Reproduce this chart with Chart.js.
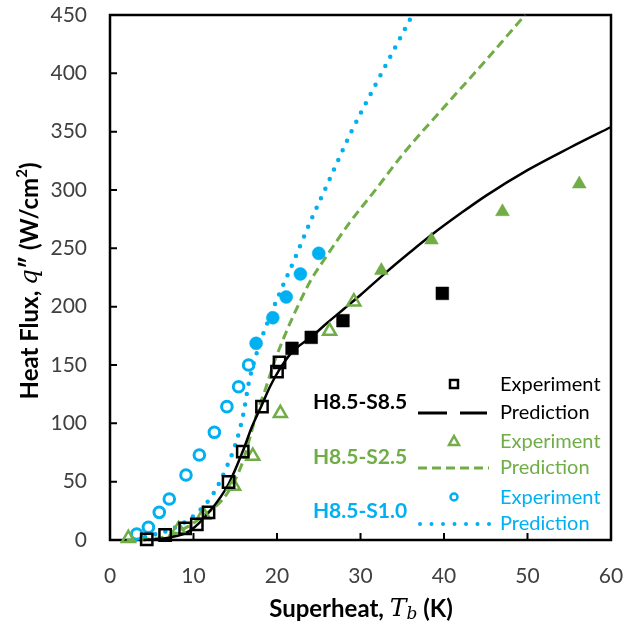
<!DOCTYPE html>
<html>
<head>
<meta charset="utf-8">
<script src="https://cdn.jsdelivr.net/npm/chart.js@4"></script>
<style>
  body { margin: 0; background: #fff; }
  canvas { display: block; }
</style>
</head>
<body>
<canvas id="c" width="634" height="625"></canvas>
<script>
// H8.5-S8.5 experiment (open = low flux, filled = high flux)
const s85OpenT = [4.4, 6.6, 9.0, 10.4, 11.8, 14.2, 15.9, 18.2, 20.0, 20.3];
const s85OpenQ = [0.6, 4.3, 10, 13.4, 23.7, 49.7, 75.7, 114.3, 144.3, 152.3];
const s85FillT = [21.8, 24.1, 27.9, 39.8];
const s85FillQ = [164.3, 173.7, 188, 211.4];
// H8.5-S2.5 experiment
const s25OpenT = [2.2, 8.2, 11.2, 14.8, 17.1, 20.4, 26.3, 29.2];
const s25OpenQ = [1.4, 9.1, 21.4, 46.3, 72, 108.6, 179.1, 204.3];
const s25FillT = [32.5, 38.5, 47.0, 56.2];
const s25FillQ = [230.9, 257.1, 281.4, 305.1];
// H8.5-S1.0 experiment
const s10OpenT = [3.2, 4.6, 5.9, 7.1, 9.1, 10.7, 12.5, 14.0, 15.4, 16.6];
const s10OpenQ = [5.1, 10.9, 23.7, 35.1, 55.7, 72.9, 92.3, 114.3, 131.4, 150];
const s10FillT = [17.5, 19.5, 21.1, 22.8, 25.0];
const s10FillQ = [168.6, 190.5, 208.3, 228, 245.7];

// predictions
const s85PredT = [4, 7, 9.6, 12, 14.2, 15.9, 17, 18.2, 19.2, 20.2, 21.8, 24.1, 26, 28, 30, 33, 36, 38.6, 42, 45, 50, 55, 60];
const s85PredQ = [0, 2, 8, 25, 48, 76, 97, 116, 132, 145, 161, 174, 186, 198, 210, 229, 247, 262, 280, 295, 317, 336, 354];
const s25PredT = [2, 6.8, 9.2, 11.6, 13.4, 14.8, 16, 16.8, 17.6, 18.6, 19.6, 21.2, 22.4, 24, 26, 28.7, 32, 35, 40, 45, 49.7];
const s25PredQ = [0, 3, 11, 23, 34, 49, 69, 89, 109, 129, 151, 180, 199, 222, 244, 272, 302, 330, 371, 411, 450];
const s10PredT = [3, 4.4, 7.6, 10.4, 12.4, 14, 15.2, 16, 16.6, 17.6, 19.4, 20.4, 22, 24, 26.1, 28.7, 32, 36.2];
const s10PredQ = [0, 3, 10, 23, 40, 63, 86, 109, 134, 161, 196, 213, 239, 273, 306, 347, 393, 450];

const groups = ['H8.5-S8.5', 'H8.5-S2.5', 'H8.5-S1.0'];
const xTicks = [0, 10, 20, 30, 40, 50, 60];

const BLACK = '#000000';
const GREEN = '#70AD47';
const BLUE = '#00B0F0';

const zip = (xs, ys) => xs.map((x, i) => ({ x: x, y: ys[i] }));

function marks(T, Q, style, color, filled, r, bw) {
  return {
    type: 'scatter', data: zip(T, Q), order: 1,
    pointStyle: style, pointRadius: r, pointHoverRadius: r,
    backgroundColor: filled ? color : 'rgba(255,255,255,0)',
    borderColor: color, borderWidth: filled ? 0.5 : bw
  };
}
function pred(T, Q, color, dash, width, cap) {
  return {
    type: 'line', data: zip(T, Q), order: 2,
    borderColor: color, borderWidth: width, borderDash: dash, borderCapStyle: cap,
    pointRadius: 0, fill: false, cubicInterpolationMode: 'monotone'
  };
}

function richText(ctx, parts, cx, cy) {
  let w = 0;
  parts.forEach(p => { ctx.font = p.font; p.w = ctx.measureText(p.text).width; w += p.w; });
  let x = cx - w / 2;
  parts.forEach(p => {
    ctx.font = p.font;
    ctx.fillText(p.text, x, cy + (p.dy || 0));
    x += p.w;
  });
}

const frame = {
  id: 'frame',
  beforeDatasetsDraw(chart) {
    const { ctx, chartArea: a, scales: { x, y } } = chart;
    ctx.save();
    ctx.strokeStyle = '#000';
    ctx.lineWidth = 2;
    ctx.beginPath();
    y.ticks.forEach(t => {
      const py = y.getPixelForValue(t.value);
      ctx.moveTo(a.left, py); ctx.lineTo(a.left + 7, py);
    });
    x.ticks.forEach(t => {
      const px = x.getPixelForValue(t.value);
      ctx.moveTo(px, a.bottom); ctx.lineTo(px, a.bottom - 7);
    });
    ctx.stroke();
    ctx.lineWidth = 2.5;
    ctx.strokeRect(a.left, a.top, a.right - a.left, a.bottom - a.top);
    ctx.restore();
  },
  afterDraw(chart) {
    const ctx = chart.ctx;
    ctx.save();
    ctx.textBaseline = 'middle';
    ctx.textAlign = 'left';
    ctx.fillStyle = '#000';
    const B = 'bold 24px Lato';
    // x title
    richText(ctx, [
      { text: 'Superheat, ', font: B },
      { text: 'T', font: 'italic 25px "DejaVu Serif"' },
      { text: 'b', font: 'italic 17px "DejaVu Serif"', dy: 6 },
      { text: ' (K)', font: B }
    ], 361, 609);
    // y title
    ctx.save();
    ctx.translate(30, 281);
    ctx.rotate(-Math.PI / 2);
    richText(ctx, [
      { text: 'Heat Flux, ', font: B },
      { text: 'q', font: 'italic 25px "DejaVu Serif"' },
      { text: '\u2033 ', font: B },
      { text: '(W/cm', font: B },
      { text: '2', font: 'bold 15px Lato', dy: -8 },
      { text: ')', font: B }
    ], 0, 0);
    ctx.restore();

    // custom legend
    const colors = [BLACK, GREEN, BLUE];
    const rowY = [[384, 413], [441, 468], [497, 524]];
    const labelY = [402, 457, 511];
    for (let i = 0; i < 3; i++) {
      const c = colors[i];
      ctx.fillStyle = c;
      ctx.strokeStyle = c;
      ctx.textAlign = 'center';
      ctx.font = 'bold 21px Lato';
      ctx.fillText(groups[i], 360, labelY[i]);
      ctx.textAlign = 'left';
      ctx.font = '20px Lato';
      ctx.fillText('Experiment', 500, rowY[i][0] + 1);
      ctx.fillText('Prediction', 500, rowY[i][1]);
      // marker
      const mx = 454, my = rowY[i][0];
      ctx.lineWidth = 2.5;
      ctx.beginPath();
      if (i === 0) {
        ctx.rect(mx - 4, my - 4, 8, 8);
      } else if (i === 1) {
        ctx.moveTo(mx, my - 5); ctx.lineTo(mx + 5, my + 4); ctx.lineTo(mx - 5, my + 4); ctx.closePath();
      } else {
        ctx.arc(mx, my, 3.5, 0, Math.PI * 2);
      }
      ctx.stroke();
      // line sample
      const ly = rowY[i][1];
      ctx.beginPath();
      if (i === 0) {
        ctx.lineWidth = 3;
        ctx.moveTo(418, ly); ctx.lineTo(447, ly);
        ctx.moveTo(460, ly); ctx.lineTo(487, ly);
      } else if (i === 1) {
        ctx.lineWidth = 3;
        ctx.setLineDash([9, 5]);
        ctx.moveTo(418, ly); ctx.lineTo(489, ly);
      } else {
        ctx.lineWidth = 4;
        ctx.lineCap = 'round';
        ctx.setLineDash([0, 11.5]);
        ctx.moveTo(420, ly); ctx.lineTo(490, ly);
      }
      ctx.stroke();
      ctx.setLineDash([]);
      ctx.lineCap = 'butt';
    }
    ctx.restore();
  }
};

new Chart(document.getElementById('c'), {
  type: 'scatter',
  data: {
    datasets: [
      marks(s85OpenT, s85OpenQ, 'rect', BLACK, false, 8, 2.5),
      marks(s85FillT, s85FillQ, 'rect', BLACK, true, 9),
      marks(s25OpenT, s25OpenQ, 'triangle', GREEN, false, 7.5, 2.5),
      marks(s25FillT, s25FillQ, 'triangle', GREEN, true, 8),
      marks(s10OpenT, s10OpenQ, 'circle', BLUE, false, 5.3, 3),
      marks(s10FillT, s10FillQ, 'circle', BLUE, true, 6.5),
      pred(s85PredT, s85PredQ, BLACK, [], 2.5, 'butt'),
      pred(s25PredT, s25PredQ, GREEN, [9, 5], 3, 'butt'),
      pred(s10PredT, s10PredQ, BLUE, [0, 10.5], 4.5, 'round')
    ]
  },
  options: {
    responsive: false,
    animation: false,
    clip: false,
    layout: { padding: { top: 15, right: 23, left: 0, bottom: 0 } },
    plugins: { legend: { display: false }, tooltip: { enabled: false } },
    scales: {
      x: {
        type: 'linear', min: 0, max: 60,
        afterBuildTicks: s => { s.ticks = xTicks.map(v => ({ value: v })); },
        afterFit: s => { s.height = 85; s.paddingLeft = 0; s.paddingRight = 0; },
        grid: { display: false, drawTicks: false },
        border: { display: false },
        ticks: { padding: 24, color: '#404040', font: { family: 'Lato', size: 21 } }
      },
      y: {
        type: 'linear', min: 0, max: 450,
        ticks: { stepSize: 50, padding: 23, color: '#404040', font: { family: 'Lato', size: 21 } },
        afterFit: s => { s.width = 110; s.paddingTop = 0; s.paddingBottom = 0; },
        grid: { display: false, drawTicks: false },
        border: { display: false }
      }
    }
  },
  plugins: [frame]
});
</script>
</body>
</html>
